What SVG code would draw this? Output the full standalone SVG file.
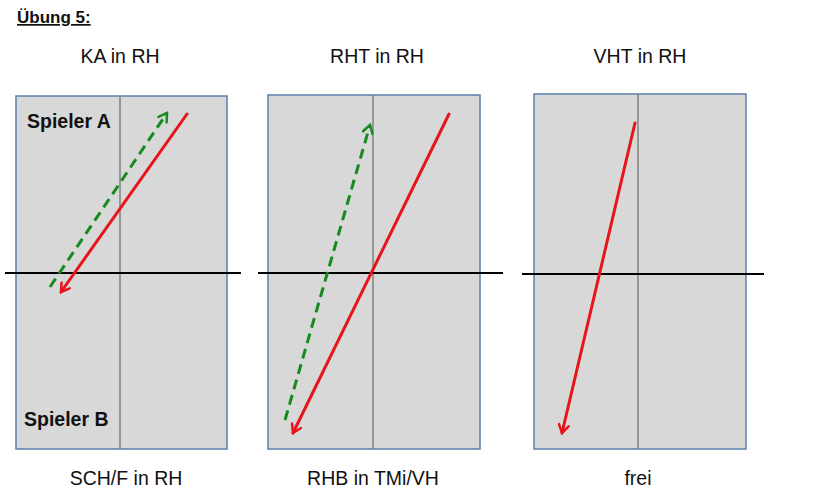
<svg xmlns="http://www.w3.org/2000/svg" width="816" height="500" viewBox="0 0 816 500">
<defs>
<style>
.t{font-family:"Liberation Sans",Arial,sans-serif;font-size:19.5px;fill:#111;text-anchor:middle}
.b{font-family:"Liberation Sans",Arial,sans-serif;font-size:19.5px;font-weight:bold;fill:#111}
.court{fill:#d8d8d8;stroke:#5b7fad;stroke-width:1.5}
.mid{stroke:#808080;stroke-width:1.5}
.net{stroke:#000;stroke-width:1.8}
.red{stroke:#e8141c;stroke-width:3;fill:none;stroke-linecap:round}
.grn{stroke:#168a1e;stroke-width:3;fill:none;stroke-dasharray:10 6}
</style>
<marker id="ar" viewBox="0 0 12 12" refX="10" refY="6" markerWidth="12" markerHeight="12" markerUnits="userSpaceOnUse" orient="auto">
<path d="M2,1 L10,6 L2,11" fill="none" stroke="#e8141c" stroke-width="2.5" stroke-linecap="round"/>
</marker>
<marker id="ag" viewBox="0 0 12 12" refX="10" refY="6" markerWidth="12" markerHeight="12" markerUnits="userSpaceOnUse" orient="auto">
<path d="M2,1 L10,6 L2,11" fill="none" stroke="#168a1e" stroke-width="2.5" stroke-linecap="round"/>
</marker>
</defs>
<rect width="816" height="500" fill="#fff"/>
<text x="17" y="23" class="b" style="font-size:17px;text-decoration:underline">Übung 5:</text>
<g id="court1">
<rect class="court" x="16" y="96" width="211" height="353"/>
<line class="mid" x1="120" y1="96" x2="120" y2="449"/>
<line class="net" x1="5" y1="273" x2="241" y2="273"/>
<text class="t" x="120" y="63">KA in RH</text>
<text class="t" x="126" y="485">SCH/F in RH</text>
<text class="b" x="27" y="128">Spieler A</text>
<text class="b" x="24" y="426">Spieler B</text>
</g>
<g id="court2">
<rect class="court" x="268" y="95" width="212" height="354"/>
<line class="mid" x1="373" y1="95" x2="373" y2="449"/>
<line class="net" x1="258" y1="273" x2="503" y2="273"/>
<text class="t" x="377" y="63">RHT in RH</text>
<text class="t" x="373" y="485">RHB in TMi/VH</text>
</g>
<g id="court3">
<rect class="court" x="534" y="94" width="212" height="355"/>
<line class="mid" x1="638" y1="94" x2="638" y2="449"/>
<line class="net" x1="522" y1="274" x2="764" y2="274"/>
<text class="t" x="640" y="63">VHT in RH</text>
<text class="t" x="638" y="485">frei</text>
</g>
<g id="connectors">
<line class="grn" x1="50" y1="287" x2="167" y2="113" marker-end="url(#ag)"/>
<line class="red" x1="187" y1="114" x2="61" y2="292" marker-end="url(#ar)"/>
<line class="grn" x1="285" y1="420" x2="370" y2="125" marker-end="url(#ag)"/>
<line class="red" x1="449" y1="114" x2="293" y2="433" marker-end="url(#ar)"/>
<line class="red" x1="635" y1="123" x2="562" y2="433" marker-end="url(#ar)"/>
</g>
</svg>
